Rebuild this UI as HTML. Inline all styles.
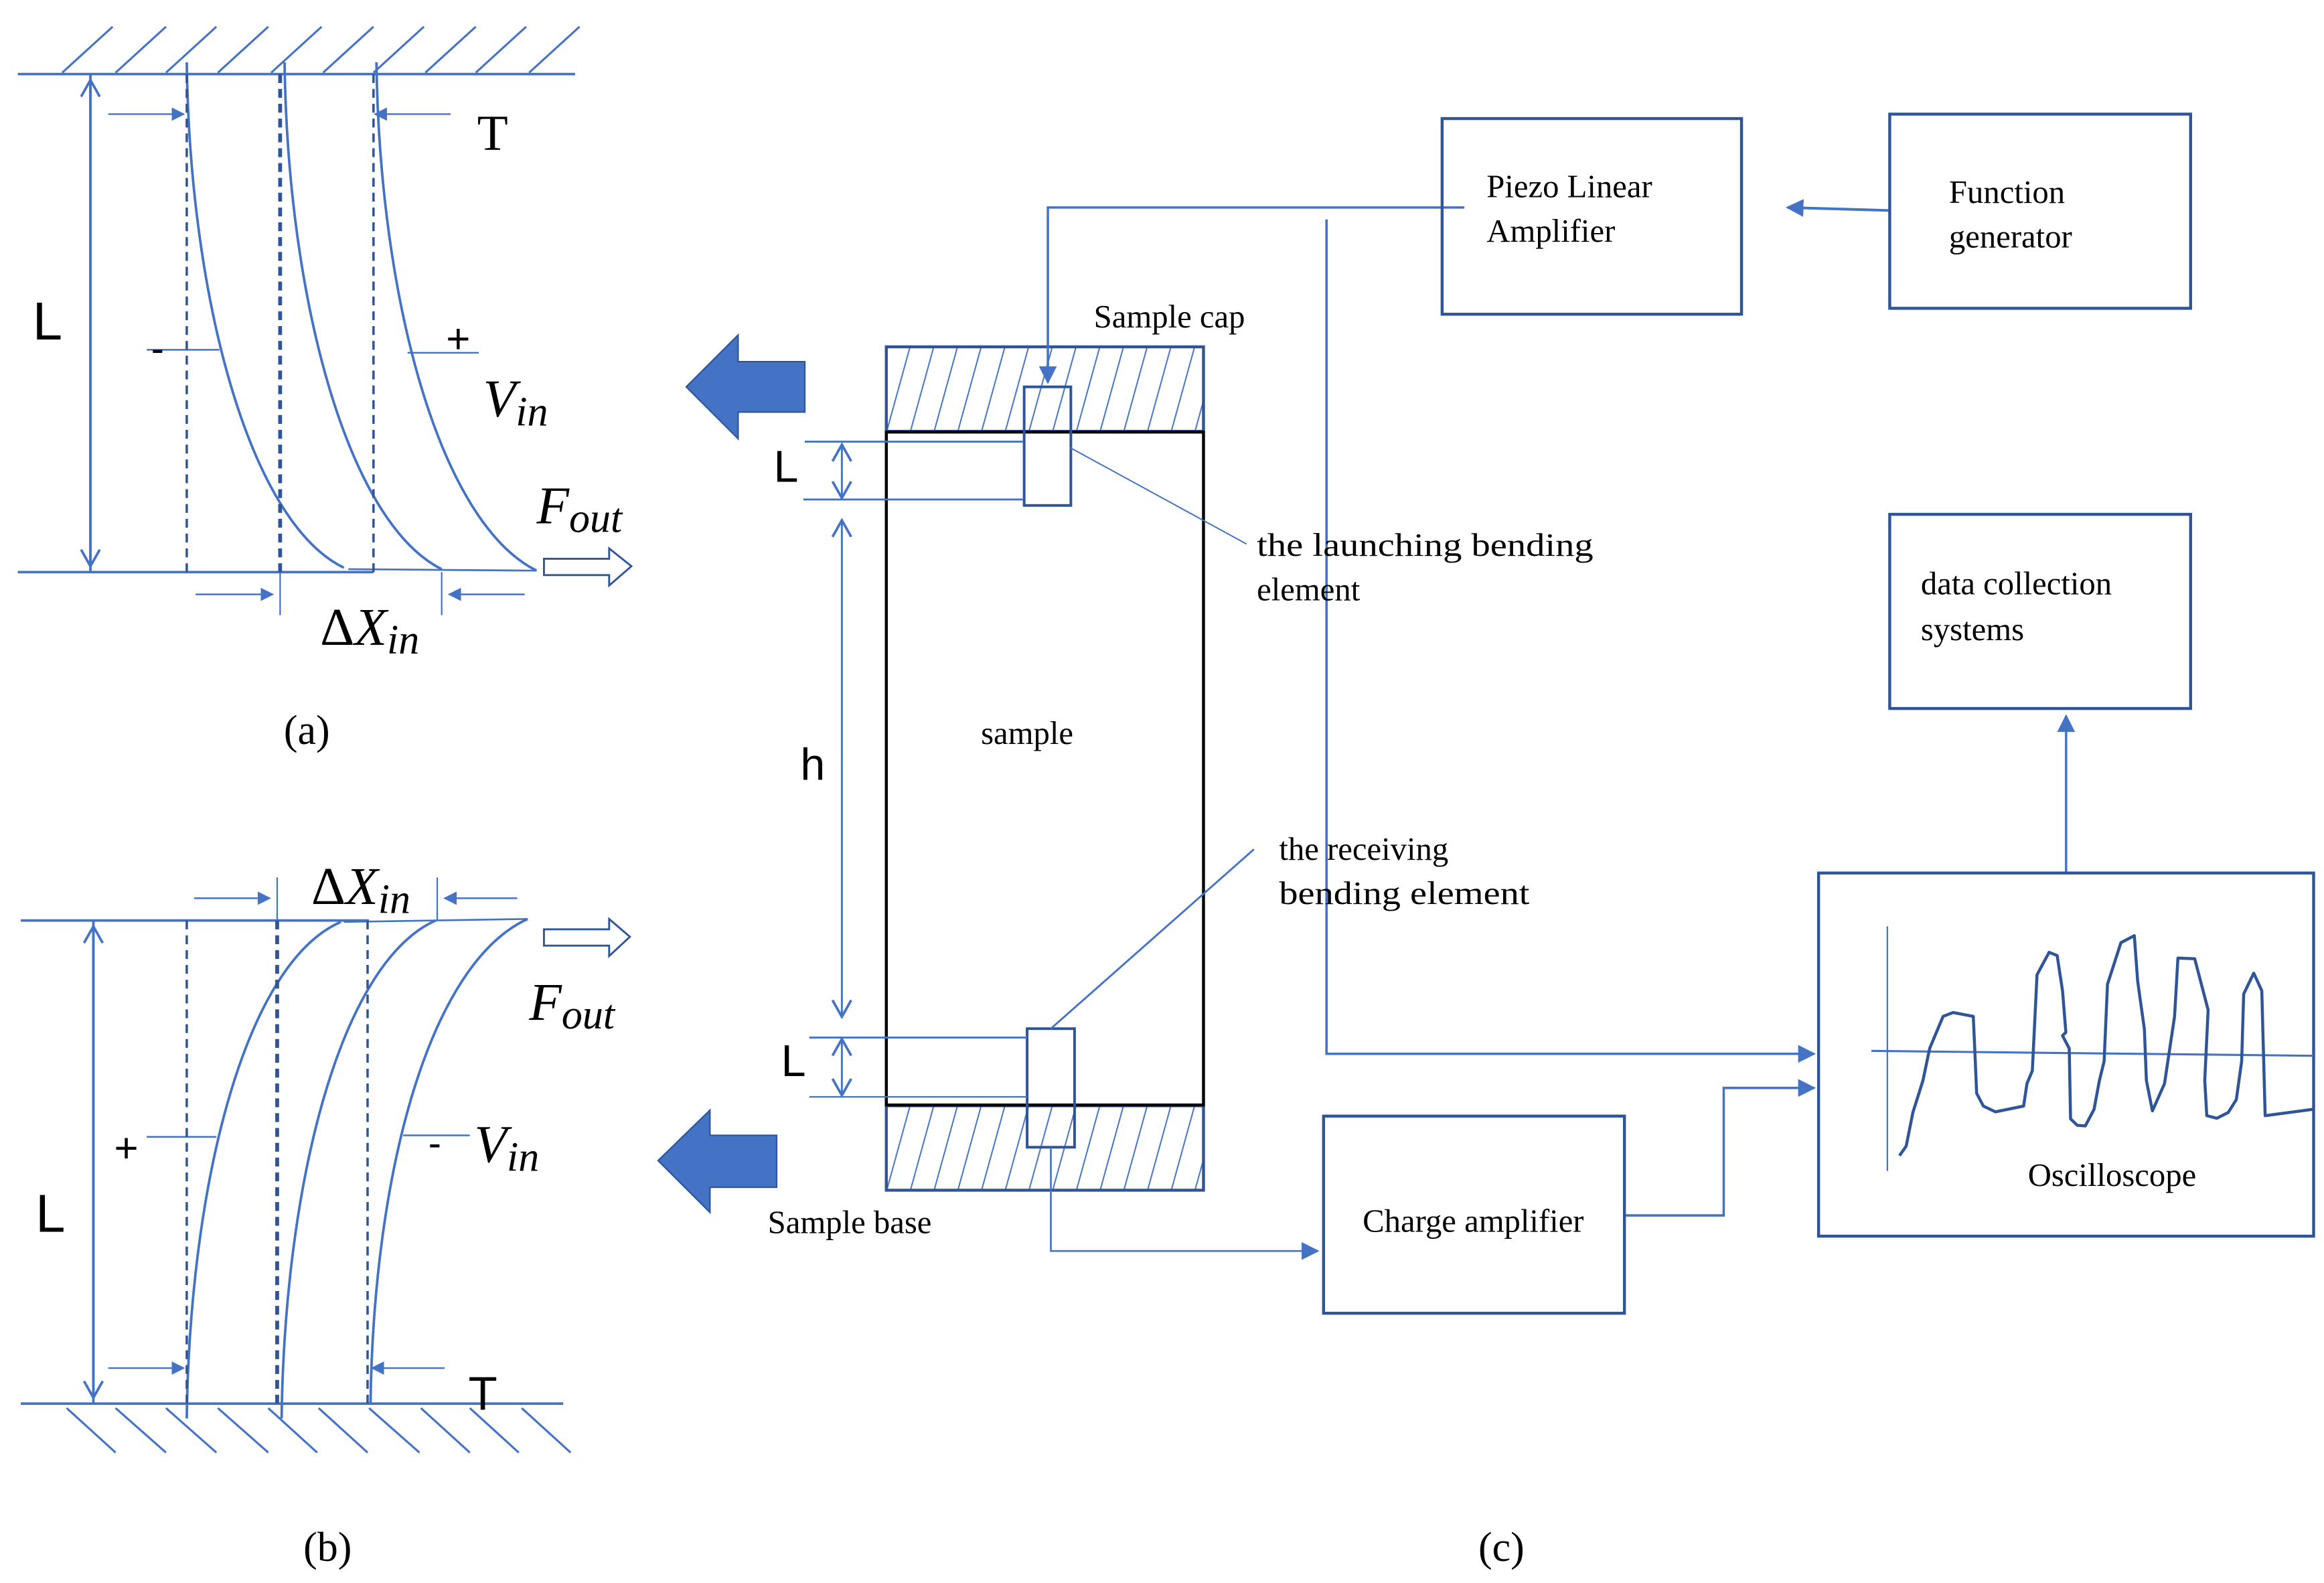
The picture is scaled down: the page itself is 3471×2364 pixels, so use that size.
<!DOCTYPE html>
<html><head><meta charset="utf-8"><style>
html,body{margin:0;padding:0;background:#fff;}
svg{display:block;}
.serif{font-family:"Liberation Serif",serif;}
.sans{font-family:"Liberation Sans",sans-serif;}
</style></head><body>
<svg width="3471" height="2364" viewBox="0 0 1568 1068" preserveAspectRatio="none" xmlns="http://www.w3.org/2000/svg">
<defs>
<marker id="ah" viewBox="0 0 10 10" refX="9" refY="5" markerWidth="9" markerHeight="9" markerUnits="userSpaceOnUse" orient="auto"><path d="M0,0 L10,5 L0,10 z" fill="#4472C4"/></marker>
<marker id="ahs" viewBox="0 0 10 10" refX="9" refY="5" markerWidth="12" markerHeight="12" markerUnits="userSpaceOnUse" orient="auto"><path d="M0,0 L10,5 L0,10 z" fill="#4472C4"/></marker>
<marker id="ch" viewBox="0 0 10 10" refX="9" refY="5" markerWidth="14" markerHeight="14" markerUnits="userSpaceOnUse" orient="auto"><path d="M1,0.5 L9,5 L1,9.5" fill="none" stroke="#4472C4" stroke-width="1.2"/></marker>
<pattern id="hatchC" patternUnits="userSpaceOnUse" x="598" y="234" width="16" height="58"><path d="M-16,58 L0,0 M0,58 L16,0 M16,58 L32,0" stroke="#4472C4" stroke-width="0.9" fill="none"/></pattern>
<pattern id="hatchB" patternUnits="userSpaceOnUse" x="598" y="746" width="16" height="58"><path d="M-16,58 L0,0 M0,58 L16,0 M16,58 L32,0" stroke="#4472C4" stroke-width="0.9" fill="none"/></pattern>
</defs>

<!-- ===== Panel (a) ===== -->
<g stroke="#4472C4" fill="none" stroke-width="1.7">
  <line x1="12" y1="50" x2="388" y2="50"/>
  <g stroke-width="1.4">
    <line x1="42" y1="49" x2="76" y2="18"/><line x1="78" y1="49" x2="112" y2="18"/>
    <line x1="112" y1="49" x2="146" y2="18"/><line x1="147" y1="49" x2="181" y2="18"/>
    <line x1="183" y1="49" x2="217" y2="18"/><line x1="218" y1="49" x2="252" y2="18"/>
    <line x1="252" y1="49" x2="286" y2="18"/><line x1="287" y1="49" x2="321" y2="18"/>
    <line x1="321" y1="49" x2="355" y2="18"/><line x1="357" y1="49" x2="391" y2="18"/>
  </g>
  <line x1="12" y1="386" x2="252" y2="386"/>
  <line x1="235" y1="384" x2="362" y2="385" stroke-width="1.2"/>
  <line x1="61" y1="386" x2="61" y2="54" marker-end="url(#ch)"/>
  <line x1="61" y1="50" x2="61" y2="382" marker-end="url(#ch)"/>
  <path d="M126,42 C128,200 168,352 232,383"/>
  <path d="M192,42 C194,200 234,352 298,384"/>
  <path d="M254,42 C256,200 296,352 362,385"/>
  <line x1="73" y1="77" x2="124" y2="77" stroke-width="1.1" marker-end="url(#ah)"/>
  <line x1="304" y1="77" x2="253" y2="77" stroke-width="1.1" marker-end="url(#ah)"/>
  <line x1="99" y1="236" x2="148" y2="236" stroke-width="1.1"/>
  <line x1="275" y1="238" x2="323" y2="238" stroke-width="1.1"/>
  <line x1="132" y1="401" x2="184" y2="401" stroke-width="1.1" marker-end="url(#ah)"/>
  <line x1="354" y1="401" x2="303" y2="401" stroke-width="1.1" marker-end="url(#ah)"/>
  <line x1="189" y1="386" x2="189" y2="415" stroke-width="1"/>
  <line x1="298" y1="386" x2="298" y2="415" stroke-width="1"/>
  <path d="M367,377 L411,377 L411,370 L426,382 L411,395 L411,388 L367,388 z" stroke="#2F5597" stroke-width="1.3"/>
</g>
<g stroke="#2F5597" stroke-dasharray="6,4" fill="none">
  <line x1="126" y1="50" x2="126" y2="386" stroke-width="1.6"/>
  <line x1="189" y1="50" x2="189" y2="386" stroke-width="2.6"/>
  <line x1="252" y1="50" x2="252" y2="386" stroke-width="1.6"/>
</g>
<text x="22" y="229" class="sans" font-size="36">L</text>
<text x="322" y="101" class="serif" font-size="34">T</text>
<text x="102" y="244" class="sans" font-size="26">-</text>
<text x="301" y="238" class="sans" font-size="28">+</text>
<text x="326" y="281" class="serif" font-size="36" font-style="italic">V<tspan font-size="28" dy="6">in</tspan></text>
<text x="362" y="353" class="serif" font-size="36" font-style="italic">F<tspan font-size="28" dy="6">out</tspan></text>
<text x="216" y="435" class="serif" font-size="36"><tspan>Δ</tspan><tspan font-style="italic">X</tspan><tspan font-style="italic" font-size="28" dy="6">in</tspan></text>
<text x="207" y="502" class="serif" font-size="28" text-anchor="middle">(a)</text>

<!-- ===== Panel (b) ===== -->
<g stroke="#4472C4" fill="none" stroke-width="1.7">
  <line x1="14" y1="621" x2="249" y2="621"/>
  <line x1="232" y1="622" x2="356" y2="620" stroke-width="1.2"/>
  <line x1="14" y1="947" x2="380" y2="947"/>
  <g stroke-width="1.4">
    <line x1="45" y1="950" x2="78" y2="980"/><line x1="78" y1="950" x2="112" y2="980"/>
    <line x1="112" y1="950" x2="146" y2="980"/><line x1="147" y1="950" x2="181" y2="980"/>
    <line x1="181" y1="950" x2="214" y2="980"/><line x1="215" y1="950" x2="248" y2="980"/>
    <line x1="249" y1="950" x2="283" y2="980"/><line x1="284" y1="950" x2="317" y2="980"/>
    <line x1="317" y1="950" x2="350" y2="980"/><line x1="352" y1="950" x2="385" y2="980"/>
  </g>
  <line x1="63" y1="947" x2="63" y2="625" marker-end="url(#ch)"/>
  <line x1="63" y1="621" x2="63" y2="943" marker-end="url(#ch)"/>
  <path d="M126,957 C128,800 165,650 230,622"/>
  <path d="M190,957 C192,800 229,650 294,621"/>
  <path d="M250,947 C252,790 290,650 356,620"/>
  <line x1="73" y1="923" x2="124" y2="923" stroke-width="1.1" marker-end="url(#ah)"/>
  <line x1="300" y1="923" x2="251" y2="923" stroke-width="1.1" marker-end="url(#ah)"/>
  <line x1="99" y1="767" x2="146" y2="767" stroke-width="1.1"/>
  <line x1="272" y1="766" x2="317" y2="766" stroke-width="1.1"/>
  <line x1="131" y1="606" x2="182" y2="606" stroke-width="1.1" marker-end="url(#ah)"/>
  <line x1="349" y1="606" x2="300" y2="606" stroke-width="1.1" marker-end="url(#ah)"/>
  <line x1="187" y1="592" x2="187" y2="621" stroke-width="1"/>
  <line x1="295" y1="592" x2="295" y2="621" stroke-width="1"/>
  <path d="M367,627 L411,627 L411,620 L425,632 L411,645 L411,638 L367,638 z" stroke="#2F5597" stroke-width="1.3"/>
</g>
<g stroke="#2F5597" stroke-dasharray="6,4" fill="none">
  <line x1="126" y1="621" x2="126" y2="947" stroke-width="1.6"/>
  <line x1="187" y1="621" x2="187" y2="947" stroke-width="2.6"/>
  <line x1="248" y1="621" x2="248" y2="947" stroke-width="1.6"/>
</g>
<text x="24" y="831" class="sans" font-size="36">L</text>
<text x="316" y="951" class="sans" font-size="32">T</text>
<text x="77" y="784" class="sans" font-size="28">+</text>
<text x="289" y="780" class="sans" font-size="26">-</text>
<text x="320" y="784" class="serif" font-size="36" font-style="italic">V<tspan font-size="28" dy="6">in</tspan></text>
<text x="357" y="688" class="serif" font-size="36" font-style="italic">F<tspan font-size="28" dy="6">out</tspan></text>
<text x="210" y="610" class="serif" font-size="36"><tspan>Δ</tspan><tspan font-style="italic">X</tspan><tspan font-style="italic" font-size="28" dy="6">in</tspan></text>
<text x="221" y="1053" class="serif" font-size="28" text-anchor="middle">(b)</text>

<!-- ===== Big arrows ===== -->
<path d="M463,261 L498,226 L498,244 L543,244 L543,278 L498,278 L498,296 z" fill="#4472C4" stroke="#2F5597" stroke-width="1"/>
<path d="M444,783 L479,749 L479,766 L524,766 L524,801 L479,801 L479,818 z" fill="#4472C4" stroke="#2F5597" stroke-width="1"/>

<!-- ===== Sample ===== -->
<rect x="598" y="234" width="214" height="57" fill="url(#hatchC)" stroke="#2F5597" stroke-width="2"/>
<rect x="598" y="746" width="214" height="57" fill="url(#hatchB)" stroke="#2F5597" stroke-width="2"/>
<rect x="598" y="291.5" width="214" height="454" fill="none" stroke="#000" stroke-width="2"/>
<rect x="691" y="261" width="31.5" height="80" fill="none" stroke="#2F5597" stroke-width="1.8"/>
<rect x="693" y="694" width="32" height="80" fill="none" stroke="#2F5597" stroke-width="1.8"/>
<g stroke="#4472C4" fill="none" stroke-width="1.3">
  <line x1="543" y1="298" x2="690" y2="298"/>
  <line x1="542" y1="337" x2="690" y2="337"/>
  <line x1="568" y1="318" x2="568" y2="300" marker-end="url(#ch)"/>
  <line x1="568" y1="318" x2="568" y2="336" marker-end="url(#ch)"/>
  <line x1="568" y1="518" x2="568" y2="351" marker-end="url(#ch)"/>
  <line x1="568" y1="518" x2="568" y2="686" marker-end="url(#ch)"/>
  <line x1="546" y1="700" x2="693" y2="700"/>
  <line x1="546" y1="740" x2="693" y2="740" stroke-width="1"/>
  <line x1="568" y1="720" x2="568" y2="701" marker-end="url(#ch)"/>
  <line x1="568" y1="720" x2="568" y2="739" marker-end="url(#ch)"/>
  <line x1="722" y1="302" x2="841" y2="367" stroke-width="0.9"/>
  <line x1="709" y1="694" x2="846" y2="573"/>
  <polyline points="988,140 707,140 707,258" stroke-width="1.6" marker-end="url(#ahs)"/>
  <polyline points="709,774 709,844 889,844" stroke-width="1.2" marker-end="url(#ahs)"/>
  <polyline points="895,148 895,711 1224,711" stroke-width="1.6" marker-end="url(#ahs)"/>
  <polyline points="1096,820 1163,820 1163,734 1224,734" stroke-width="1.6" marker-end="url(#ahs)"/>
  <line x1="1275" y1="142" x2="1206" y2="140" stroke-width="1.8" marker-end="url(#ahs)"/>
  <line x1="1394" y1="588" x2="1394" y2="483" stroke-width="1.6" marker-end="url(#ahs)"/>
</g>
<text x="522" y="325" class="sans" font-size="30">L</text>
<text x="540" y="526" class="sans" font-size="30">h</text>
<text x="527" y="726" class="sans" font-size="30">L</text>
<text x="693" y="502" class="serif" font-size="22" text-anchor="middle">sample</text>
<text x="738" y="221" class="serif" font-size="22">Sample cap</text>
<text x="518" y="832" class="serif" font-size="22">Sample base</text>
<text x="848" y="375" class="serif" font-size="22" textLength="227" lengthAdjust="spacingAndGlyphs">the launching bending</text>
<text x="848" y="405" class="serif" font-size="22">element</text>
<text x="863" y="580" class="serif" font-size="22">the receiving</text>
<text x="863" y="610" class="serif" font-size="22" textLength="169" lengthAdjust="spacingAndGlyphs">bending element</text>

<!-- ===== Boxes ===== -->
<g fill="none" stroke="#2F5597" stroke-width="2">
  <rect x="973" y="80" width="202" height="132"/>
  <rect x="1275" y="77" width="203" height="131"/>
  <rect x="1275" y="347" width="203" height="131"/>
  <rect x="1227" y="589" width="334" height="245"/>
  <rect x="893" y="753" width="203" height="133"/>
</g>
<text x="1003" y="133" class="serif" font-size="22">Piezo Linear</text>
<text x="1003" y="163" class="serif" font-size="22">Amplifier</text>
<text x="1315" y="137" class="serif" font-size="22">Function</text>
<text x="1315" y="167" class="serif" font-size="22">generator</text>
<text x="1296" y="401" class="serif" font-size="22">data collection</text>
<text x="1296" y="432" class="serif" font-size="22">systems</text>
<text x="1425" y="800" class="serif" font-size="22" text-anchor="middle">Oscilloscope</text>
<text x="994" y="831" class="serif" font-size="22" text-anchor="middle">Charge amplifier</text>

<!-- Oscilloscope trace -->
<line x1="1273.4" y1="625" x2="1273.4" y2="790" stroke="#4472C4" stroke-width="1"/>
<line x1="1262.6" y1="709" x2="1560.9" y2="712.3" stroke="#4472C4" stroke-width="1.4"/>
<g transform="translate(858.3,564.7) scale(0.4527,0.2161)">
<polyline fill="none" stroke="#2F5597" stroke-width="4.5" vector-effect="non-scaling-stroke" stroke-linejoin="round"
points="935,995 945,965 955,860 970,760 980,660 1000,560 1015,548 1045,560 1048,700 1050,800 1060,840 1078,858 1120,840 1125,770 1133,730 1140,430 1158,360 1170,370 1178,480 1183,610 1178,620 1188,660 1190,880 1200,900 1212,902 1225,850 1233,760 1240,700 1245,460 1265,330 1285,308 1290,450 1300,600 1303,760 1312,855 1330,770 1345,560 1350,378 1375,380 1385,460 1395,540 1390,760 1393,870 1408,878 1425,860 1437,820 1445,700 1448,490 1463,425 1475,480 1480,870 1552,850"/>
</g>

<text x="1013" y="1053" class="serif" font-size="28" text-anchor="middle">(c)</text>
</svg>
</body></html>
